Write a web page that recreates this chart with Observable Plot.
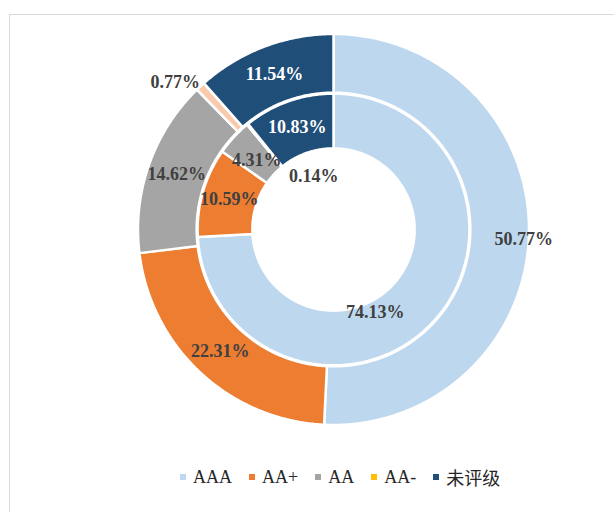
<!DOCTYPE html>
<html><head><meta charset="utf-8">
<script src="https://cdn.jsdelivr.net/npm/d3@7"></script>
<script src="https://cdn.jsdelivr.net/npm/@observablehq/plot@0.6"></script>
<style>
html,body{margin:0;padding:0;background:#fff}
body{width:614px;height:512px;overflow:hidden;position:relative;font-family:"Liberation Serif","Times New Roman","Noto Sans CJK SC",serif}
#frame{position:absolute;left:9px;top:14px;width:700px;height:600px;border:1.5px solid #d9d9d9;box-sizing:border-box}
#chart{position:absolute;left:0;top:0}
#legend{position:absolute;left:180px;top:464px;display:flex;align-items:center;font-size:18px;color:#262626;white-space:nowrap}
#legend .item{display:flex;align-items:center;margin-right:17px}
#legend .sw{width:6px;height:6px;margin-right:7px;display:inline-block}
</style></head>
<body>
<div id="frame"></div>
<div id="chart"></div>
<div id="legend"></div>
<script>
// ---- data ----
const categories = ["AAA", "AA+", "AA", "AA-", "未评级"];
const outerValues = [50.77, 22.31, 14.62, 0.77, 11.54];
const innerValues = [74.13, 10.59, 4.31, 0.14, 10.83];
const legendColors = ["#bdd7ee", "#ed7d31", "#a5a5a5", "#ffc000", "#1f4e79"];
const sliceColors = ["#bdd7ee", "#ed7d31", "#a5a5a5", "#f8cbad", "#1f4e79"];
const labelColors = ["#404040", "#404040", "#404040", "#404040", "#ffffff"];
// manual label nudges (px), as placed in the original
const outerNudgeX = [24, 0, 0, -45, 0];
const outerNudgeY = [6, 0, 0, -26, 0];
const innerNudgeX = [-37, 0, 3, 49, 0];
const innerNudgeY = [8, 0, 4, 31, 0];

// ---- layout ----
const W = 614, H = 460, CX = 333, CY = 229, R = 195.5;
const rings = [
  {values: outerValues, r0: 0.70, r1: 1.0, nx: outerNudgeX, ny: outerNudgeY},
  {values: innerValues, r0: 0.415, r1: 0.695, nx: innerNudgeX, ny: innerNudgeY}
];

const marks = [];
const labels = [];
rings.forEach((ring, ri) => {
  const total = d3.sum(ring.values);
  let acc = 0;
  ring.values.forEach((v, i) => {
    const a0 = acc / total * 2 * Math.PI;
    acc += v;
    const a1 = acc / total * 2 * Math.PI;
    const n = Math.max(2, Math.ceil((a1 - a0) / (Math.PI / 360)));
    const pts = [];
    for (let k = 0; k <= n; k++) {
      const a = a0 + (a1 - a0) * k / n;
      pts.push({x: ring.r1 * Math.sin(a), y: ring.r1 * Math.cos(a)});
    }
    for (let k = n; k >= 0; k--) {
      const a = a0 + (a1 - a0) * k / n;
      pts.push({x: ring.r0 * Math.sin(a), y: ring.r0 * Math.cos(a)});
    }
    marks.push(Plot.line(pts, {x: "x", y: "y", fill: sliceColors[i], stroke: "white", strokeWidth: 2.5, curve: "linear-closed"}));
    const am = (a0 + a1) / 2, rm = (ring.r0 + ring.r1) / 2;
    labels.push({x: rm * Math.sin(am), y: rm * Math.cos(am), text: v.toFixed(2) + "%", color: labelColors[i], dx: ring.nx[i], dy: ring.ny[i]});
  });
});

labels.forEach(l => {
  marks.push(Plot.text([l], {x: "x", y: "y", text: "text", fill: l.color, dx: l.dx, dy: l.dy,
    fontSize: 18, fontWeight: "bold", fontFamily: "'Liberation Serif','Times New Roman',serif"}));
});

const chart = Plot.plot({
  width: W, height: H,
  marginTop: 0, marginRight: 0, marginBottom: 0, marginLeft: 0,
  x: {domain: [-CX / R, (W - CX) / R], axis: null},
  y: {domain: [-(H - CY) / R, CY / R], axis: null},
  style: {background: "transparent", overflow: "visible"},
  marks
});
document.getElementById("chart").appendChild(chart);

const legend = document.getElementById("legend");
categories.forEach((c, i) => {
  const item = document.createElement("div");
  item.className = "item";
  const sw = document.createElement("span");
  sw.className = "sw";
  sw.style.background = legendColors[i];
  const t = document.createElement("span");
  t.textContent = c;
  item.appendChild(sw); item.appendChild(t);
  legend.appendChild(item);
});
</script>
</body></html>
